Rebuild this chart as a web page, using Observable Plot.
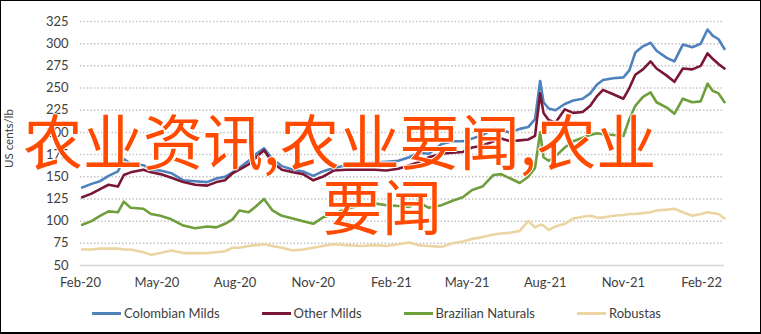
<!DOCTYPE html>
<html>
<head>
<meta charset="utf-8">
<script src="https://cdn.jsdelivr.net/npm/d3@7"></script>
<script src="https://cdn.jsdelivr.net/npm/@observablehq/plot@0.6"></script>
<style>
  html, body { margin: 0; padding: 0; background: #fff; }
  #wrap { position: relative; width: 761px; height: 334px; overflow: hidden; background: #fff; font-family: Lato, "Noto Sans", sans-serif; }
  #chart { position: absolute; left: 0; top: 0; }
  #legend { position: absolute; left: 92px; top: 305px; display: flex; gap: 42px; align-items: center; font-size: 13px; color: #404040; white-space: nowrap; }
  #legend .item { display: flex; align-items: center; }
  #legend .swatch { width: 29px; height: 3px; margin-right: 3px; }
  .ov { position: absolute; font-family: "Noto Sans CJK SC", sans-serif; font-size: 60px; line-height: 60px; color: #FF4A00; white-space: nowrap;
        text-shadow: 1px 0 0 #fff, -1px 0 0 #fff, 0 1px 0 #fff, 0 -1px 0 #fff; }
  #border { position: absolute; left: 0; top: 0; right: 0; bottom: 0; border: 1px solid #000; border-bottom-width: 2px; pointer-events: none; }
</style>
</head>
<body>
<div id="wrap">
  <div id="chart"></div>
  <div id="legend"></div>
  <div class="ov" id="ov1" style="left:23px; top:109px;">农业资讯,农业要闻,农业</div>
  <div class="ov" id="ov2" style="left:322px; top:174px;">要闻</div>
  <div id="border"></div>
</div>
<script>
const seriesNames = ["Colombian Milds", "Other Milds", "Brazilian Naturals", "Robustas"];
const seriesColors = ["#4F81BD", "#7A1736", "#6F9E3C", "#EBD5A2"];

const dates = ["2020-02-03","2020-02-14","2020-02-24","2020-03-05","2020-03-16","2020-03-23","2020-03-31","2020-04-15","2020-04-24","2020-05-05",
"2020-05-18","2020-06-01","2020-06-15","2020-06-29","2020-07-10","2020-07-20","2020-07-29","2020-08-06","2020-08-17","2020-08-26",
"2020-09-04","2020-09-14","2020-09-25","2020-10-08","2020-10-20","2020-11-01","2020-11-12","2020-11-25","2020-12-10","2020-12-28",
"2021-01-12","2021-01-26","2021-02-09","2021-02-22","2021-03-04","2021-03-17","2021-04-01","2021-04-14","2021-04-26","2021-05-07",
"2021-05-19","2021-06-01","2021-06-10","2021-06-21","2021-07-02","2021-07-12","2021-07-20","2021-07-26","2021-07-30","2021-08-05",
"2021-08-13","2021-08-24","2021-09-03","2021-09-14","2021-09-23","2021-10-01","2021-10-08","2021-10-20","2021-11-01","2021-11-08",
"2021-11-15","2021-11-24","2021-12-03","2021-12-10","2021-12-22","2021-12-31","2022-01-10","2022-01-21","2022-01-31","2022-02-08",
"2022-02-14","2022-02-21","2022-02-28"];

const colombianMilds = [138,142,145,151,156,170,165,163,158,157,
154,146,145,144,148,150,155,160,168,176,
182,170,162,158,156,151,156,160,163,165,
166,167,168,172,177,176,187,190,190,193,
197,204,202,200,204,206,215,258,234,227,
225,232,236,238,244,254,259,261,262,270,
290,297,301,292,284,280,299,296,300,316,
309,305,294];

const otherMilds = [127,131,136,141,139,152,155,158,155,153,
149,144,141,140,144,146,154,158,164,172,
180,166,158,155,153,146,150,157,158,158,
158,157,159,163,166,172,176,177,178,183,
185,190,193,190,191,192,196,244,222,214,
211,226,222,223,230,241,248,243,238,250,
265,271,280,272,264,257,272,271,275,289,
283,277,272];

const brazilianNaturals = [96,100,106,111,110,122,115,114,108,106,
102,95,92,94,93,97,102,112,110,117,
125,112,106,103,100,97,104,108,114,118,
120,118,117,116,122,115,118,123,127,135,
139,152,153,148,143,150,160,200,172,168,
173,183,190,194,197,199,198,197,196,215,
230,240,245,234,228,221,238,234,235,255,
247,244,234];

const robustas = [68,68,69,69,69,68,68,65,62,64,
67,64,64,64,65,66,70,70,72,73,
74,72,70,67,68,70,72,74,73,72,
73,72,74,76,73,72,71,75,77,80,
82,85,86,87,89,100,93,96,95,90,
94,97,103,105,106,104,104,106,107,108,
108,109,110,112,113,114,110,106,108,110,
109,108,103];

const yTicks = [50,75,100,125,150,175,200,225,250,275,300,325];
const xTickLabels = ["Feb-20","May-20","Aug-20","Nov-20","Feb-21","May-21","Aug-21","Nov-21","Feb-22"];
const yTitle = "US cents/lb";

const allValues = [colombianMilds, otherMilds, brazilianNaturals, robustas];
const parseLabel = d3.utcParse("%b-%y");
const xTicks = xTickLabels.map(parseLabel);
const fmt = d3.utcFormat("%b-%y");

const data = [];
seriesNames.forEach((name, s) => {
  dates.forEach((d, i) => data.push({ name, date: new Date(d + "T00:00:00Z"), value: allValues[s][i] }));
});

const chart = Plot.plot({
  width: 761,
  height: 295,
  marginLeft: 80,
  marginRight: 37,
  marginTop: 21,
  marginBottom: 30,
  style: { fontFamily: "Lato, 'Noto Sans', sans-serif", fontSize: "13px", color: "#404040", background: "transparent" },
  x: { type: "utc", domain: [new Date("2020-02-01T00:00:00Z"), new Date("2022-02-28T00:00:00Z")] },
  y: { domain: [50, 325] },
  color: { domain: seriesNames, range: seriesColors },
  marks: [
    Plot.ruleY(yTicks.filter(t => t > 50), { stroke: "#c4c4c4", strokeWidth: 1.5, strokeDasharray: "1.5,2" }),
    Plot.ruleY([50], { stroke: "#d4d4d4", strokeWidth: 1.5 }),
    Plot.axisY({ ticks: yTicks, tickSize: 0, tickPadding: 12, label: null, fontSize: 13 }),
    Plot.axisX({ ticks: xTicks, tickFormat: fmt, tickSize: 0, tickPadding: 12, label: null, fontSize: 13 }),
    Plot.text([yTitle], { frameAnchor: "left", textAnchor: "middle", dx: -71, dy: -5, rotate: -90, fontSize: 11.5, fill: "#404040" }),
    Plot.line(data, { x: "date", y: "value", z: "name", stroke: "name", strokeWidth: 2.6, strokeLinejoin: "round" })
  ]
});
document.getElementById("chart").appendChild(chart);

const legend = document.getElementById("legend");
seriesNames.forEach((name, i) => {
  const item = document.createElement("div");
  item.className = "item";
  const sw = document.createElement("span");
  sw.className = "swatch";
  sw.style.background = seriesColors[i];
  const tx = document.createElement("span");
  tx.textContent = name;
  item.appendChild(sw);
  item.appendChild(tx);
  legend.appendChild(item);
});
</script>
</body>
</html>
